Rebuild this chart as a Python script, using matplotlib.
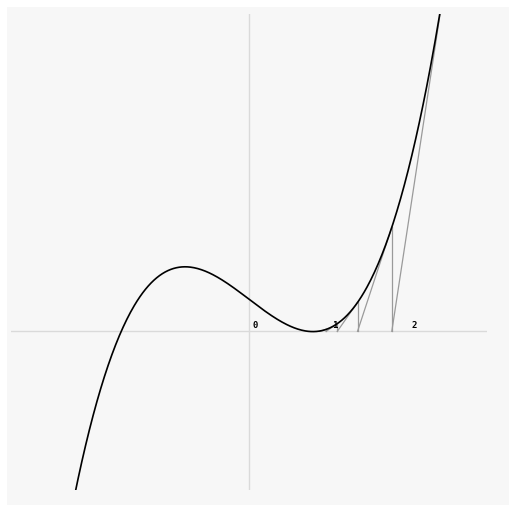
import numpy as np
import matplotlib.pyplot as plt

# Data: cubic, f(x) = a*x^3 + b*x^2 + c*x + d
coeffs = [0.39, 0.0, -0.76, 0.405]
x_start, x_end = -2.2, 2.5
# Newton iterates (start at 2.5, converging to the double root)
newton_x = [2.5, 1.80, 1.368, 1.113, 0.972, 0.89]
tick_labels = ["0", "1", "2"]
tick_pos = [0, 1, 2]

W, H = 509, 505
fig = plt.figure(figsize=(W / 100, H / 100), dpi=100)
fig.patch.set_facecolor("white")

# light grey panel behind the plot
bg = fig.add_axes([7 / W, 0, 1 - 7 / W, 1 - 7 / H])
bg.set_facecolor("#f7f7f7")
bg.set_xticks([])
bg.set_yticks([])
for s in bg.spines.values():
    s.set_visible(False)

ax = fig.add_axes([11 / W, 1 - 490 / H, 476 / W, 476 / H])
ax.set_xlim(-3, 3)
ax.set_ylim(-2, 4)
ax.set_facecolor("none")
ax.axis("off")

ax.axhline(0, color="#dadada", lw=1.0, zorder=1)
ax.axvline(0, color="#dadada", lw=1.0, zorder=1)

xs = np.linspace(x_start, x_end, 400)
ax.plot(xs, np.polyval(coeffs, xs), color="black", lw=1.2, zorder=3)

# tangent steps
for k in range(len(newton_x) - 1):
    x0, x1 = newton_x[k], newton_x[k + 1]
    y0 = np.polyval(coeffs, x0)
    ax.plot([x0, x1], [y0, 0], color="#9a9a9a", lw=0.9, zorder=2)
    ax.plot([x1, x1], [0, np.polyval(coeffs, x1)], color="#9a9a9a", lw=0.9, zorder=2)

for p, lab in zip(tick_pos, tick_labels):
    ax.text(p + 0.08, 0.02, lab, ha="center", va="bottom", fontsize=6.5,
            fontweight="bold", family="DejaVu Sans Mono", color="black", zorder=4)

plt.savefig("out.png", dpi=100)
